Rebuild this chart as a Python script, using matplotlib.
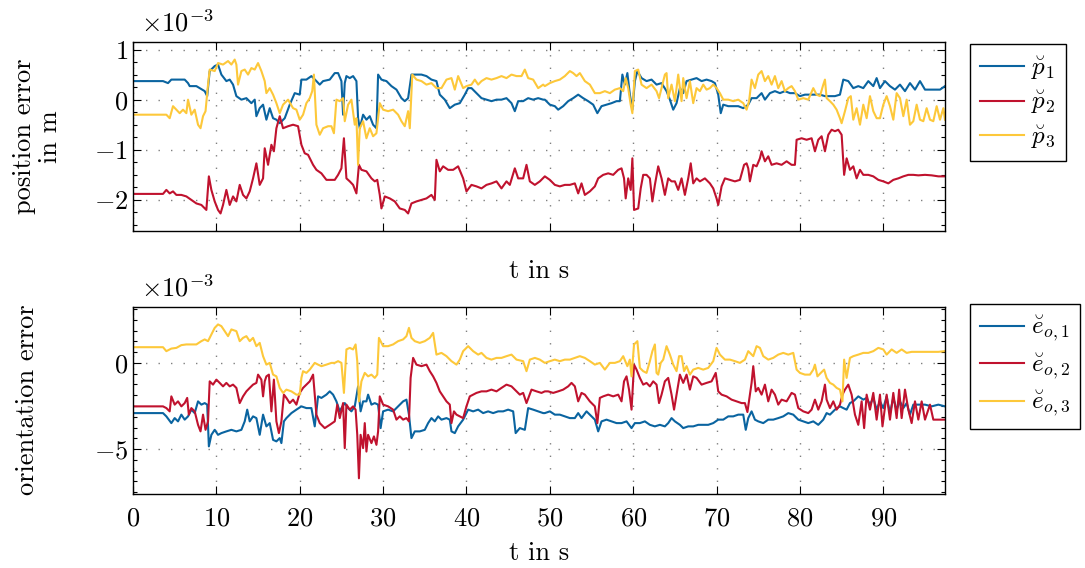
import matplotlib
matplotlib.use("Agg")
import matplotlib.pyplot as plt
from matplotlib.ticker import MultipleLocator

plt.rcParams.update({
    "font.family": "serif",
    "font.serif": ["cmr10"],
    "mathtext.fontset": "cm",
    "axes.formatter.use_mathtext": True,
    "axes.unicode_minus": True,
})

# ---------------- data (values in 1e-3) ----------------
t_p1 = [0, 3.6, 4.2, 4.6, 5.6, 6.2, 6.6, 6.8, 7.6, 8, 8.6, 8.9, 9.2, 9.8, 10.2, 10.6, 11.2, 11.6, 12, 12.4,
        13, 13.6, 14.2, 14.6, 14.8, 15.2, 15.6, 16, 16.4, 16.8, 17.2, 17.6, 18.2, 18.8, 19.4, 20, 20.2, 20.8,
        21.4, 22, 22.4, 22.8, 23.6, 24.2, 24.6, 25, 25.2, 25.4, 25.6, 26, 26.4, 26.8, 27, 27.2, 27.6, 28, 28.4,
        28.8, 29.2, 29.4, 29.8, 30.4, 31, 31.6, 32.2, 32.6, 33, 33.4, 34, 34.6, 35.2, 35.8, 36.4, 36.8, 37.4,
        38, 38.6, 39.2, 39.8, 40.2, 40.6, 41.2, 41.8, 42.4, 43, 43.6, 44.2, 44.8, 45.4, 45.8, 46.2, 46.8, 47.4,
        48, 48.6, 49.2, 49.4, 50, 50.6, 51, 51.6, 52.2, 52.8, 53.4, 54, 54.6, 55.2, 55.7, 56.2, 56.8, 57.4, 58,
        58.4, 58.7, 59, 59.3, 59.6, 59.9, 60.2, 60.5, 61, 61.6, 62.2, 62.8, 63.4, 64, 64.4, 64.8, 65.2, 65.6,
        66, 66.4, 67, 67.6, 68.2, 68.8, 69.4, 69.8, 70.2, 70.5, 70.8, 71.4, 72, 72.6, 73.2, 73.8, 74.2, 74.8,
        75.4, 75.8, 76.4, 77, 77.6, 78.2, 78.8, 79.4, 80, 80.6, 81.2, 81.8, 82.4, 83, 83.6, 84.2, 84.8, 85.2,
        85.8, 86.4, 87, 87.6, 88.2, 88.8, 89.2, 89.6, 90.2, 90.8, 91.4, 92, 92.6, 93.2, 93.8, 94.4, 95, 95.6,
        96.2, 96.8, 97.4]
p1 = [0.37, 0.37, 0.33, 0.40, 0.40, 0.40, 0.33, 0.27, 0.27, 0.23, 0.17, 0.07, 0.57, 0.67, 0.70, 0.50, 0.37, 0.40,
      0.30, 0.07, 0.0, 0.03, -0.07, 0.0, -0.33, -0.17, -0.10, -0.40, -0.17, -0.37, -0.40, -0.47, -0.37, -0.10,
      0.13, 0.10, 0.40, 0.40, 0.47, 0.37, 0.30, 0.37, 0.40, 0.53, 0.53, 0.37, -0.30, 0.33, 0.47, 0.43, 0.47,
      0.37, -0.37, -0.57, -0.30, -0.40, -0.33, -0.50, -0.57, 0.50, 0.40, 0.37, 0.27, 0.20, 0.03, -0.03, 0.03,
      0.50, 0.50, 0.50, 0.47, 0.40, 0.37, 0.10, 0.0, -0.17, -0.10, -0.07, 0.10, 0.23, 0.23, 0.13, 0.03, 0.0,
      -0.03, 0.0, 0.0, 0.03, -0.07, -0.23, -0.03, -0.03, 0.03, 0.0, 0.03, 0.0, 0.0, -0.10, -0.13, -0.20,
      -0.13, -0.03, 0.03, 0.10, 0.03, -0.03, -0.10, -0.27, -0.13, -0.10, -0.07, -0.03, -0.03, 0.50, 0.30,
      0.53, 0.10, -0.20, 0.37, 0.57, 0.43, 0.37, 0.40, 0.30, 0.33, 0.17, 0.0, -0.20, -0.07, 0.23, 0.13, 0.37,
      0.40, 0.43, 0.37, 0.40, 0.37, 0.33, 0.10, -0.27, -0.10, -0.13, -0.13, -0.13, -0.17, -0.10, 0.03, 0.03,
      0.13, 0.0, 0.13, 0.17, 0.13, 0.17, 0.13, 0.13, 0.07, 0.10, 0.10, 0.10, 0.10, 0.07, 0.07, 0.07, 0.10,
      0.40, 0.37, 0.23, 0.27, 0.23, 0.37, 0.27, 0.43, 0.23, 0.37, 0.27, 0.20, 0.30, 0.17, 0.33, 0.20, 0.37,
      0.20, 0.20, 0.20, 0.20, 0.27]

t_p2 = [0, 3.6, 4, 4.4, 4.8, 5.2, 5.8, 6.4, 7, 7.6, 8.2, 8.8, 9.1, 9.4, 9.8, 10.2, 10.5, 10.8, 11.2, 11.6, 12,
        12.4, 12.8, 13.2, 13.6, 14, 14.4, 14.8, 15.2, 15.6, 15.8, 16.2, 16.6, 16.9, 17.2, 17.6, 18, 18.6, 19.2,
        19.8, 20.2, 20.6, 21, 21.6, 22, 22.6, 23.2, 23.8, 24.2, 24.6, 25, 25.3, 25.6, 26, 26.4, 26.8, 27.1,
        27.4, 28, 28.6, 29, 29.3, 29.6, 29.8, 30.2, 30.8, 31.4, 32, 32.6, 33, 33.4, 34, 34.6, 35.2, 35.8, 36.2,
        36.4, 36.8, 37.2, 37.8, 38.4, 39, 39.6, 40, 40.6, 41.2, 41.8, 42.4, 43, 43.6, 44.2, 44.8, 45.2, 45.8,
        46.2, 46.8, 47.2, 47.6, 48.2, 48.8, 49.4, 50, 50.6, 51.2, 51.8, 52.4, 53, 53.4, 53.8, 54.2, 54.8, 55.4,
        55.8, 56.4, 57, 57.6, 58.2, 58.6, 58.9, 59.1, 59.4, 59.7, 59.9, 60.1, 60.6, 60.9, 61.2, 61.6, 62, 62.3,
        62.6, 63, 63.4, 63.8, 64.2, 64.6, 65, 65.4, 65.8, 66.2, 66.6, 66.9, 67.2, 67.6, 68, 68.6, 69.2, 69.6,
        70, 70.2, 70.6, 71, 71.6, 72.2, 72.8, 73.3, 73.6, 73.8, 74, 74.4, 74.8, 75.2, 75.4, 75.8, 76.2, 76.6,
        77.2, 77.8, 78.4, 79, 79.4, 79.6, 80.2, 80.8, 81.4, 81.8, 82.2, 82.6, 83, 83.4, 83.8, 84.2, 84.6, 85,
        85.3, 85.6, 86, 86.4, 86.8, 87.2, 87.6, 88.2, 88.8, 89.4, 90, 90.6, 91.2, 91.8, 92.4, 93, 93.6, 94.2,
        95, 95.8, 96.6, 97.4]
p2 = [-1.88, -1.88, -1.80, -1.87, -1.83, -1.90, -1.90, -1.93, -2.00, -2.07, -2.10, -2.20, -1.53, -1.80, -2.03,
      -2.20, -2.27, -2.10, -1.80, -2.10, -1.93, -2.03, -1.70, -1.90, -1.97, -1.83, -1.57, -1.27, -1.70, -1.57,
      -0.97, -1.30, -0.90, -1.03, -0.57, -0.33, -0.57, -0.53, -0.50, -0.53, -0.90, -1.07, -1.10, -1.30, -1.40,
      -1.47, -1.60, -1.60, -1.60, -1.50, -1.37, -0.77, -1.57, -1.63, -1.70, -1.87, -1.30, -1.40, -1.43, -1.57,
      -1.63, -1.60, -1.90, -2.17, -1.93, -1.97, -2.03, -2.17, -2.20, -2.27, -2.07, -2.03, -2.00, -1.97, -1.90,
      -2.00, -1.20, -1.43, -1.33, -1.40, -1.40, -1.33, -1.57, -1.83, -1.70, -1.73, -1.77, -1.70, -1.67, -1.63,
      -1.77, -1.63, -1.70, -1.37, -1.57, -1.57, -1.30, -1.63, -1.70, -1.63, -1.53, -1.60, -1.70, -1.73, -1.70,
      -1.70, -1.67, -1.87, -1.67, -1.90, -1.83, -1.73, -1.57, -1.50, -1.47, -1.50, -1.40, -1.37, -1.57, -1.97,
      -1.57, -1.80, -1.17, -2.20, -2.17, -1.77, -1.50, -1.50, -1.57, -2.03, -1.70, -1.33, -1.57, -1.90, -1.57,
      -1.63, -1.63, -1.80, -1.57, -1.90, -1.57, -1.27, -1.67, -1.57, -1.63, -1.57, -1.67, -1.77, -1.97, -2.10,
      -1.73, -1.57, -1.60, -1.63, -1.60, -1.30, -1.27, -1.37, -1.63, -1.30, -1.33, -1.17, -1.03, -1.23, -1.13,
      -1.30, -1.27, -1.30, -1.23, -1.30, -1.30, -0.80, -0.77, -0.80, -0.77, -1.03, -0.80, -0.73, -1.03, -0.70,
      -0.60, -0.63, -0.60, -0.70, -1.50, -1.17, -1.40, -1.33, -1.57, -1.40, -1.50, -1.50, -1.53, -1.60, -1.63,
      -1.67, -1.60, -1.57, -1.53, -1.50, -1.50, -1.51, -1.50, -1.51, -1.53, -1.53]

t_p3 = [0, 4, 4.4, 4.8, 5.2, 5.6, 6, 6.4, 6.6, 7, 7.4, 7.8, 8.1, 8.4, 8.7, 9, 9.2, 9.8, 10.2, 10.8, 11.4, 11.8,
        12.2, 12.4, 12.6, 13, 13.4, 13.8, 14.2, 14.6, 15, 15.4, 15.8, 16, 16.4, 16.8, 17.2, 17.6, 18, 18.6, 19.2,
        19.6, 20, 20.4, 20.8, 21.2, 21.5, 21.7, 22, 22.4, 22.8, 23.4, 23.8, 24.1, 24.4, 24.8, 25.2, 25.4, 25.8,
        26.2, 26.6, 26.8, 27, 27.2, 27.6, 28, 28.4, 28.8, 29.2, 29.6, 30, 30.6, 31.2, 31.8, 32.2, 32.6, 33, 33.2,
        33.5, 34, 34.6, 35.2, 35.8, 36.4, 37, 37.6, 38.2, 38.6, 39, 39.6, 40, 40.6, 41, 41.4, 41.8, 42.4, 43,
        43.6, 44.2, 44.8, 45.4, 46, 46.6, 47, 47.4, 48, 48.6, 49.2, 49.4, 50, 50.6, 51.2, 51.8, 52.4, 52.8, 53.2,
        53.6, 54.2, 54.8, 55.4, 56, 56.6, 57.2, 57.8, 58.4, 58.8, 59.1, 59.4, 59.7, 59.9, 60.2, 60.6, 61, 61.6,
        62.2, 62.8, 63.1, 63.4, 63.8, 64, 64.2, 64.6, 65, 65.4, 65.8, 66, 66.4, 66.8, 67.2, 67.6, 68, 68.4, 68.8,
        69.2, 69.6, 70, 70.4, 70.8, 71.4, 72, 72.6, 73.2, 73.6, 73.9, 74.2, 74.6, 75, 75.4, 75.8, 76.2, 76.6, 77,
        77.4, 77.8, 78.2, 78.6, 79, 79.4, 79.8, 80.4, 81, 81.6, 82, 82.4, 82.8, 83, 83.2, 83.6, 84, 84.4, 84.8,
        85, 85.4, 85.8, 86.1, 86.4, 86.8, 87.2, 87.6, 88, 88.4, 88.8, 89.2, 89.6, 90, 90.4, 90.8, 91.2, 91.6, 92,
        92.4, 92.8, 93.2, 93.6, 94, 94.4, 94.8, 95.2, 95.6, 96, 96.4, 96.8, 97.2, 97.4]
p3 = [-0.30, -0.30, -0.37, -0.13, -0.20, -0.27, -0.20, -0.27, 0.0, -0.30, -0.20, -0.50, -0.57, -0.33, -0.23,
      0.30, 0.60, 0.57, 0.73, 0.70, 0.77, 0.70, 0.80, 0.70, 0.30, 0.57, 0.60, 0.50, 0.63, 0.60, 0.73, 0.57, 0.37,
      0.13, 0.23, 0.10, -0.07, -0.27, -0.10, 0.0, -0.17, -0.20, -0.40, -0.30, -0.07, 0.03, 0.17, 0.50, -0.50,
      -0.70, -0.57, -0.53, -0.53, -0.67, 0.0, -0.03, 0.03, -0.43, -0.10, 0.0, -0.50, -0.37, -1.30, -0.57, -0.43,
      -0.77, -0.57, -0.73, -0.67, -0.07, -0.20, -0.23, -0.20, -0.30, -0.43, -0.53, -0.23, -0.57, 0.50, 0.40,
      0.37, 0.30, 0.33, 0.23, 0.23, 0.40, 0.43, 0.20, 0.47, 0.23, 0.27, 0.30, 0.40, 0.30, 0.37, 0.43, 0.40, 0.43,
      0.47, 0.43, 0.50, 0.47, 0.47, 0.60, 0.43, 0.40, 0.23, 0.30, 0.27, 0.33, 0.37, 0.40, 0.47, 0.57, 0.53, 0.47,
      0.53, 0.37, 0.30, 0.13, 0.13, 0.17, 0.13, 0.20, 0.23, 0.17, 0.43, 0.23, -0.10, -0.27, 0.57, 0.60, 0.30,
      0.23, 0.30, 0.17, 0.03, 0.23, 0.50, 0.53, 0.03, 0.30, -0.03, 0.50, -0.03, 0.43, 0.03, 0.37, -0.07, 0.23,
      0.17, 0.30, 0.20, 0.23, 0.30, 0.23, 0.13, 0.0, 0.0, -0.03, 0.0, -0.07, -0.20, -0.03, 0.40, 0.23, 0.50,
      0.57, 0.37, 0.47, 0.30, 0.47, 0.23, 0.37, 0.17, 0.23, 0.27, 0.17, 0.0, 0.03, 0.0, 0.23, 0.10, 0.07, 0.30,
      0.40, 0.03, -0.03, -0.10, -0.20, -0.37, -0.47, -0.23, 0.03, 0.07, -0.40, -0.17, -0.50, -0.10, -0.37, 0.07,
      -0.23, -0.37, -0.37, -0.10, 0.07, -0.13, -0.40, 0.13, 0.03, -0.33, 0.0, -0.50, -0.43, -0.10, -0.40, -0.43,
      -0.17, -0.40, -0.43, -0.13, -0.40, -0.17, -0.40]

t_e1 = [0, 3.6, 4, 4.6, 5, 5.4, 5.8, 6.2, 6.6, 7, 7.4, 7.8, 8.2, 8.6, 8.9, 9.1, 9.4, 9.8, 10.2, 10.6, 11.2, 11.8,
        12.4, 13, 13.4, 13.7, 14, 14.4, 14.8, 15.2, 15.6, 16, 16.4, 16.8, 17.2, 17.6, 17.8, 18.1, 18.4, 19, 19.6,
        20.2, 20.8, 21.4, 21.8, 22.2, 22.6, 23.2, 23.6, 24, 24.4, 24.8, 25, 25.4, 25.8, 26.2, 26.6, 27, 27.3,
        27.6, 28, 28.2, 28.6, 29, 29.4, 29.7, 30, 30.6, 31.2, 31.8, 32.4, 32.8, 33.1, 33.4, 33.8, 34.4, 35, 35.4,
        35.8, 36.2, 36.6, 37, 37.6, 38, 38.2, 38.6, 39, 39.6, 40.2, 40.8, 41.4, 42, 42.6, 43.2, 43.8, 44.4, 45,
        45.6, 45.9, 46.4, 47, 47.4, 48, 48.6, 49.2, 49.4, 50, 50.6, 51.2, 51.8, 52.4, 53, 53.4, 53.8, 54.4, 55,
        55.4, 55.8, 56.2, 56.8, 57.4, 58, 58.6, 59.2, 59.8, 60.2, 60.8, 61.4, 62, 62.6, 63.2, 63.8, 64.2, 64.6,
        65, 65.6, 66, 66.6, 67.2, 67.8, 68.4, 69, 69.6, 70.2, 70.8, 71.4, 72, 72.6, 73.2, 73.5, 73.8, 74.2, 74.6,
        75, 75.6, 76.2, 76.8, 77.4, 78, 78.6, 79.2, 79.8, 80.4, 81, 81.6, 82.2, 82.8, 83.2, 83.6, 84.2, 84.8,
        85.2, 85.6, 86, 86.4, 87, 87.6, 88, 88.4, 88.8, 89.2, 89.6, 90, 90.4, 90.8, 91.2, 91.6, 92, 92.4, 92.8,
        93.2, 93.6, 94.2, 95, 95.8, 96.6, 97.4]
e1 = [-2.91, -2.91, -3.10, -3.49, -3.20, -3.39, -3.00, -3.29, -3.10, -2.71, -2.91, -2.23, -2.42, -2.33, -2.42,
      -4.84, -4.17, -3.88, -4.17, -4.07, -3.97, -3.88, -3.97, -3.88, -3.39, -2.71, -3.39, -3.10, -3.20, -4.17,
      -3.00, -3.68, -3.49, -4.46, -4.55, -4.36, -4.65, -3.39, -3.20, -2.91, -2.71, -2.52, -2.62, -2.62, -3.68,
      -1.94, -2.03, -1.84, -1.65, -1.84, -2.23, -2.81, -2.62, -2.33, -2.62, -2.81, -2.52, -1.36, -2.81, -2.23,
      -2.23, -1.84, -2.42, -2.33, -2.42, -3.78, -2.81, -2.71, -2.81, -2.52, -2.23, -2.13, -3.00, -4.36, -3.97,
      -3.97, -3.88, -3.49, -3.20, -3.39, -3.10, -3.29, -3.20, -3.29, -3.97, -4.07, -3.68, -3.29, -2.71, -2.81,
      -2.71, -2.91, -2.81, -2.91, -2.81, -2.81, -2.71, -2.81, -4.07, -3.78, -3.88, -2.62, -2.71, -2.81, -2.91,
      -2.91, -2.81, -3.00, -3.00, -3.10, -3.20, -3.20, -2.91, -3.20, -2.81, -3.10, -3.29, -3.97, -3.39, -3.29,
      -3.39, -3.49, -3.49, -3.39, -3.78, -3.49, -3.49, -3.39, -3.59, -3.68, -3.59, -3.68, -3.49, -3.20, -3.39,
      -3.59, -3.78, -3.68, -3.68, -3.59, -3.59, -3.59, -3.49, -3.29, -3.29, -3.10, -3.10, -3.00, -3.00, -3.88,
      -3.20, -2.81, -3.29, -3.39, -3.49, -3.29, -3.29, -3.20, -3.10, -2.91, -3.00, -3.29, -3.39, -3.49, -3.39,
      -3.59, -3.29, -2.91, -3.00, -2.71, -2.52, -2.62, -2.71, -2.33, -2.23, -1.94, -2.13, -2.03, -2.42, -2.03,
      -2.71, -2.23, -2.62, -1.94, -2.91, -2.03, -2.71, -2.23, -2.62, -2.33, -3.00, -2.42, -2.42, -2.42, -2.52,
      -2.42, -2.52]

t_e2 = [0, 3.6, 4, 4.4, 4.6, 5, 5.4, 5.8, 6.2, 6.5, 6.7, 7, 7.4, 7.8, 8.1, 8.4, 8.7, 9, 9.2, 9.6, 10, 10.4, 10.8,
        11.2, 11.6, 12, 12.4, 12.8, 13.2, 13.6, 14, 14.4, 14.8, 15, 15.4, 15.6, 15.8, 16, 16.3, 16.6, 16.9, 17.2,
        17.5, 17.8, 18.1, 18.4, 18.8, 19.2, 19.6, 20, 20.4, 20.8, 21.2, 21.6, 21.8, 22, 22.4, 23, 23.6, 24.2,
        24.5, 24.8, 25.2, 25.4, 25.6, 26, 26.4, 26.7, 26.9, 27.1, 27.3, 27.6, 27.8, 28, 28.2, 28.6, 28.9, 29.2,
        29.4, 29.6, 30, 30.6, 31.2, 31.6, 32, 32.4, 32.8, 33.1, 33.3, 33.6, 34, 34.6, 35.2, 35.6, 36, 36.4, 36.8,
        37.2, 37.6, 38, 38.2, 38.5, 38.8, 39.2, 39.6, 40, 40.4, 40.8, 41.2, 41.8, 42.4, 43, 43.6, 44.2, 44.8,
        45.4, 46, 46.4, 46.8, 47.2, 47.8, 48.4, 49, 49.4, 49.8, 50.4, 51, 51.6, 52.2, 52.6, 53, 53.4, 53.8, 54.2,
        54.8, 55.4, 55.7, 56, 56.4, 57, 57.6, 58.2, 58.6, 58.9, 59.2, 59.5, 59.8, 60.1, 60.4, 60.8, 61.2, 61.6,
        62, 62.4, 62.8, 63.1, 63.4, 63.8, 64.2, 64.6, 64.9, 65.2, 65.6, 66, 66.4, 66.8, 67.2, 67.6, 68.2, 68.8,
        69.4, 69.9, 70.2, 70.6, 71.2, 71.8, 72.4, 73, 73.4, 73.7, 74, 74.2, 74.4, 74.7, 75, 75.4, 75.8, 76.2,
        76.6, 77, 77.4, 77.8, 78.4, 79, 79.4, 79.8, 80.4, 81, 81.4, 81.8, 82.2, 82.6, 83, 83.2, 83.6, 84, 84.4,
        84.8, 85.1, 85.4, 85.8, 86.2, 86.6, 87, 87.4, 87.7, 88, 88.4, 88.8, 89.2, 89.6, 89.9, 90.4, 90.8, 91.2,
        91.6, 91.9, 92.2, 92.6, 93, 93.4, 93.8, 94.2, 94.6, 95, 95.6, 96, 96.6, 97.4]
e2 = [-2.52, -2.52, -2.62, -2.81, -1.94, -2.42, -2.23, -2.52, -2.33, -2.03, -3.00, -2.62, -2.81, -3.59, -3.97,
      -3.00, -3.88, -3.39, -1.07, -1.26, -0.97, -1.16, -1.36, -1.16, -1.36, -1.26, -1.45, -2.33, -1.94, -1.65,
      -1.45, -1.26, -1.16, -0.68, -0.97, -1.94, -1.07, -0.78, -0.68, -2.81, -0.97, -3.39, -4.07, -3.39, -1.84,
      -2.03, -2.33, -2.13, -2.42, -1.74, -1.45, -1.26, -1.07, -0.68, -1.84, -3.00, -3.49, -3.78, -3.59, -3.39,
      -2.42, -3.20, -2.33, -4.94, -2.42, -2.71, -2.52, -2.71, -4.17, -6.69, -4.17, -4.94, -3.49, -5.14, -4.17,
      -4.65, -4.26, -4.75, -3.97, -1.94, -2.42, -2.52, -2.71, -3.29, -3.10, -3.29, -3.20, -3.39, -0.87, 0.29,
      -0.10, -0.19, -0.10, -0.48, -0.78, -1.16, -1.65, -1.94, -2.23, -2.42, -3.49, -2.81, -3.00, -3.10, -3.20,
      -2.52, -1.94, -1.84, -1.74, -1.65, -1.65, -1.55, -1.65, -1.45, -1.26, -1.36, -1.65, -1.84, -1.74, -2.33,
      -1.55, -1.65, -1.74, -1.65, -1.65, -1.74, -1.65, -1.55, -1.36, -1.16, -1.36, -2.23, -1.74, -1.84, -2.23,
      -2.52, -3.49, -2.03, -1.94, -1.84, -1.94, -1.84, -2.23, -1.07, -0.78, -1.55, -2.71, -0.10, -0.39, -0.87,
      -1.26, -1.16, -1.36, -1.07, -1.26, -2.33, -1.84, -1.07, -0.87, -1.84, -2.71, -1.84, -0.68, -1.16, -0.68,
      -1.55, -0.78, -0.87, -1.26, -1.16, -1.07, -0.58, -1.65, -1.84, -1.94, -2.13, -2.23, -2.33, -2.33, -2.85,
      -1.84, -1.16, -0.19, -1.65, -1.45, -1.84, -1.26, -2.23, -1.55, -1.84, -2.42, -2.13, -2.23, -1.74, -1.84,
      -2.62, -2.81, -2.91, -2.71, -2.13, -2.71, -2.23, -1.26, -2.13, -2.62, -2.23, -2.71, -2.42, -1.84, -1.55,
      -1.26, -1.84, -3.00, -3.59, -2.23, -3.78, -1.84, -2.71, -1.74, -3.29, -1.84, -3.68, -1.84, -3.29, -1.74,
      -3.20, -1.55, -3.20, -1.55, -2.71, -3.49, -2.23, -3.29, -2.23, -3.29, -2.42, -3.29, -3.29, -3.29]

t_e3 = [0, 3.6, 4, 4.6, 5.2, 5.8, 6.4, 7, 7.6, 8.2, 8.6, 9, 9.4, 9.8, 10.2, 10.6, 11, 11.4, 11.8, 12.4, 12.8,
        13.2, 13.6, 14, 14.4, 14.8, 15.2, 15.6, 16, 16.4, 16.8, 17.2, 17.6, 18, 18.4, 19, 19.6, 20, 20.2, 20.4,
        20.8, 21.2, 21.5, 21.8, 22.2, 22.6, 23.2, 23.8, 24.2, 24.6, 25, 25.3, 25.6, 26, 26.4, 26.7, 26.9, 27.1,
        27.4, 27.8, 28.2, 28.6, 29, 29.3, 29.5, 30, 30.6, 31.2, 31.8, 32.4, 32.8, 33.1, 33.4, 33.8, 34.4, 35,
        35.6, 36, 36.4, 37, 37.6, 38.2, 38.8, 39.2, 39.6, 40.2, 40.8, 41.4, 41.8, 42.4, 43, 43.6, 44.2, 44.8,
        45.4, 46, 46.8, 47.2, 47.6, 48.2, 48.8, 49.4, 50, 50.6, 51.2, 51.8, 52.4, 53, 53.6, 54.2, 54.8, 55.4, 56,
        56.6, 57.2, 57.8, 58.4, 58.8, 59.3, 59.6, 59.8, 60.1, 60.5, 60.8, 61.2, 61.6, 62, 62.3, 62.6, 62.8, 63,
        63.3, 63.6, 64, 64.4, 64.8, 65.2, 65.5, 65.8, 66.1, 66.4, 66.8, 67.2, 67.8, 68.4, 69, 69.6, 70, 70.4, 71,
        71.6, 72.2, 72.8, 73.4, 73.8, 74.4, 74.8, 75.2, 75.6, 76.2, 76.8, 77.4, 78, 78.6, 79.2, 79.6, 80, 80.6,
        81.2, 81.6, 81.8, 82.1, 82.5, 82.9, 83.2, 83.6, 84, 84.4, 84.8, 85.1, 85.3, 85.6, 86, 86.4, 87, 87.6,
        88.2, 88.8, 89.4, 90, 90.4, 91, 91.6, 92.2, 92.8, 93.4, 94.2, 95, 95.8, 96.6, 97.4]
e3 = [0.91, 0.91, 0.68, 0.83, 0.87, 1.03, 1.07, 1.07, 1.07, 1.26, 1.36, 1.26, 1.65, 2.03, 2.23, 2.13, 1.84, 1.55,
      1.94, 1.84, 1.26, 1.45, 1.55, 1.26, 1.45, 0.97, 1.16, 0.39, -0.10, 0.0, -0.68, -0.78, -1.45, -1.74, -1.55,
      -1.65, -1.84, -1.84, -0.87, -0.48, -0.58, -0.39, -0.19, 0.0, -0.10, -0.19, -0.10, 0.0, 0.0, 0.10, 0.0,
      -1.74, 0.78, 0.87, 0.78, 1.07, 0.10, -2.23, -1.07, -0.58, -0.78, -0.68, -0.87, -0.68, 1.45, 0.97, 0.97,
      1.07, 1.26, 1.36, 1.55, 2.03, 1.45, 1.26, 1.16, 1.26, 1.45, 1.74, 0.48, 0.58, 0.39, 0.10, -0.10, 0.19,
      0.68, 0.97, 0.68, 0.48, 0.58, 0.29, 0.19, 0.29, 0.29, 0.39, 0.48, 0.19, 0.10, -0.48, 0.19, 0.29, 0.19,
      0.0, 0.10, 0.19, 0.10, 0.19, 0.19, 0.29, 0.39, 0.29, 0.10, -0.10, 0.0, -0.39, 0.0, 0.0, 0.10, 0.39, -0.19,
      0.19, -0.78, 1.07, 1.26, -0.29, -0.48, -0.58, 0.10, 0.68, 1.07, -0.58, -0.68, 0.0, 0.19, 0.97, 0.48,
      -0.10, -0.48, 0.39, 0.39, -0.48, -0.19, -0.68, -0.39, -0.29, -0.39, -0.29, 0.10, 0.87, 0.48, 0.19, 0.19,
      0.10, 0.0, 0.19, 0.68, 0.39, 0.97, 0.87, 0.39, 0.19, 0.29, 0.48, 0.58, 0.48, 0.58, -0.39, -0.58, -0.68,
      -0.68, -0.39, -0.10, -0.78, -0.58, -0.39, -0.87, -1.16, -1.26, -1.45, -1.55, -2.23, 0.19, -0.87, 0.29,
      0.39, 0.48, 0.58, 0.58, 0.68, 0.87, 0.78, 0.48, 0.78, 0.58, 0.78, 0.58, 0.64, 0.64, 0.64, 0.64, 0.64,
      0.68]

x_ticks = [0, 10, 20, 30, 40, 50, 60, 70, 80, 90]
top_yticks = [-2, -1, 0, 1]
bot_yticks = [-5, 0]
top_labels = [r"$\breve{p}_1$", r"$\breve{p}_2$", r"$\breve{p}_3$"]
bot_labels = [r"$\breve{e}_{o,1}$", r"$\breve{e}_{o,2}$", r"$\breve{e}_{o,3}$"]

c_blue = "#0a64a0"
c_red = "#c0122e"
c_yel = "#fdc83a"

FS = 19
LFS = 18
W, H = 1085, 568
fig = plt.figure(figsize=(W / 100, H / 100), dpi=100)

def frac(l, t, r, b):
    return [l / W, 1 - b / H, (r - l) / W, (b - t) / H]

ax1 = fig.add_axes(frac(133, 42, 945, 231))
ax2 = fig.add_axes(frac(133, 307, 945, 494))

lw = 1.5
ax1.plot(t_p1, p1, color=c_blue, lw=lw, label=top_labels[0])
ax1.plot(t_p2, p2, color=c_red, lw=lw, label=top_labels[1])
ax1.plot(t_p3, p3, color=c_yel, lw=lw, label=top_labels[2])
ax2.plot(t_e1, e1, color=c_blue, lw=lw, label=bot_labels[0])
ax2.plot(t_e2, e2, color=c_red, lw=lw, label=bot_labels[1])
ax2.plot(t_e3, e3, color=c_yel, lw=lw, label=bot_labels[2])

ax1.set_ylim(-2.62, 1.15)
ax2.set_ylim(-7.6, 3.24)
ax1.set_yticks(top_yticks)
ax2.set_yticks(bot_yticks)
ax1.yaxis.set_minor_locator(MultipleLocator(0.25))
ax2.yaxis.set_minor_locator(MultipleLocator(0.625))

for ax in (ax1, ax2):
    ax.set_xlim(0, 97.4)
    ax.set_xticks(x_ticks)
    ax.tick_params(which="both", direction="in", top=True, right=True, labelsize=FS, width=0.8)
    ax.tick_params(which="major", length=6)
    ax.tick_params(which="minor", length=3)
    ax.tick_params(axis="x", pad=9)
    ax.grid(True, which="major", color="#808080", linestyle=(0, (1, 8)), linewidth=1.0)
    for s in ax.spines.values():
        s.set_linewidth(1.0)
ax1.tick_params(labelbottom=False)
ax1.set_xlabel("t in s", fontsize=FS, labelpad=20)
ax2.set_xlabel("t in s", fontsize=FS, labelpad=8)

fig.text(37 / W, 1 - 136.5 / H, "position error\nin m", rotation=90, ha="center", va="center",
         multialignment="center", linespacing=1.15, fontsize=FS)
fig.text(27 / W, 1 - 400 / H, "orientation error", rotation=90, ha="center", va="center", fontsize=FS)

ax1.text(0.01, 1.03, r"$\times 10^{-3}$", transform=ax1.transAxes, fontsize=FS, va="bottom", ha="left")
ax2.text(0.01, 1.03, r"$\times 10^{-3}$", transform=ax2.transAxes, fontsize=FS, va="bottom", ha="left")

for ax, top_px in ((ax1, 44), (ax2, 304)):
    leg = ax.legend(loc="upper left", bbox_to_anchor=(970 / W, 1 - top_px / H),
                    bbox_transform=fig.transFigure, fontsize=LFS, frameon=True, fancybox=False,
                    edgecolor="black", framealpha=1, handlelength=1.75, borderpad=0.4,
                    labelspacing=0.28, handletextpad=0.3, borderaxespad=0)
    leg.get_frame().set_linewidth(1.0)

fig.savefig("out.png", dpi=100)
